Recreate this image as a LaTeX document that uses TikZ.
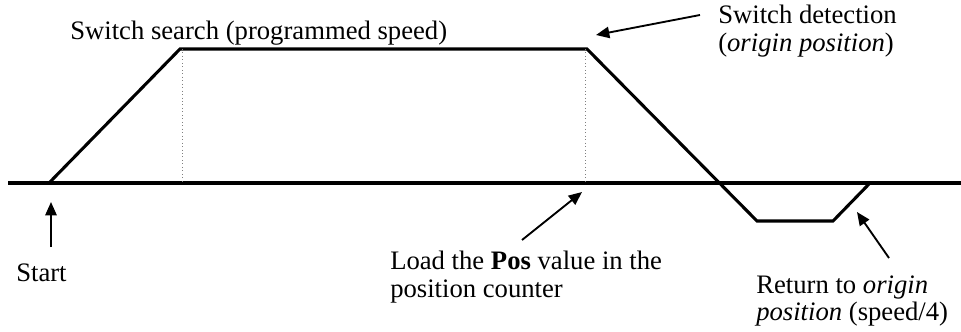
\documentclass[tikz,border=0pt]{standalone}
\usepackage{fontspec}
\setmainfont{Liberation Serif}
\usetikzlibrary{arrows.meta,positioning}
\tikzset{
  axisln/.style={line width=2.3pt},
  curveln/.style={line width=2.3pt, line join=miter},
  projln/.style={dotted, line width=0.6pt, gray},
  guide/.style={-{Triangle[length=10pt,width=8.5pt]}, line width=1.4pt},
  lbl/.style={font=\fontsize{20}{20.5}\selectfont, inner sep=0pt, align=left},
}

\begin{document}
\begin{tikzpicture}[x=0.75pt, y=-0.75pt]
  \useasboundingbox (0,0) rectangle (961,332);
  % time axis
  \draw[axisln] (8,183) -- (961,183);
  % speed profile of the homing run
  \coordinate (p0) at (49,183);
  \coordinate (p1) at (180,49);
  \coordinate (p2) at (587,49);
  \coordinate (p3) at (757,221);
  \coordinate (p4) at (833,221);
  \coordinate (p5) at (870,183);
  \draw[curveln] (p0) -- (p1) -- (p2) -- (p3) -- (p4) -- (p5);
  \draw[projln] (182,49) -- (182,183);
  \draw[projln] (585,49) -- (585,183);
  % labels
  \node[lbl, anchor=west] (search) at (70,33) {Switch search (programmed speed)};
  \node[lbl, anchor=west] (detect) at (718,31) {Switch detection\\(\textit{origin position})};
  \node[lbl, anchor=west] (start) at (16,273) {Start};
  \node[lbl, anchor=west] (load) at (390,277) {Load the \textbf{Pos} value in the\\position counter};
  \node[lbl, anchor=west] (ret) at (756,301) {Return to \textit{origin}\\\textit{position} (speed/4)};
  % pointers
  \coordinate (detectTail) at (700,15);
  \coordinate (detectTip) at (596,35);
  \coordinate (startTail) at (51,247);
  \coordinate (startTip) at (51,202);
  \coordinate (loadTail) at (522,240);
  \coordinate (loadTip) at (582,192);
  \coordinate (retTail) at (889,258);
  \coordinate (retTip) at (857,212);
  \draw[guide] (detectTail) -- (detectTip);
  \draw[guide] (startTail) -- (startTip);
  \draw[guide] (loadTail) -- (loadTip);
  \draw[guide] (retTail) -- (retTip);
\end{tikzpicture}
\end{document}
